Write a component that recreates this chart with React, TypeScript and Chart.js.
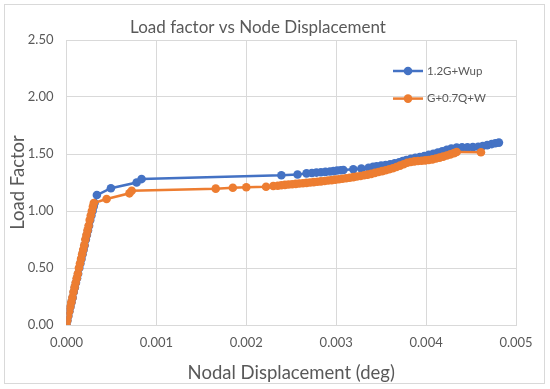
import React, { useEffect, useRef } from "react";
import { Chart, registerables } from "chart.js";

Chart.register(...registerables);

const seriesNames = ["1.2G+Wup", "G+0.7Q+W"];
const xTicks = [0, 0.001, 0.002, 0.003, 0.004, 0.005];
const yTicks = [0, 0.5, 1.0, 1.5, 2.0, 2.5];

const blueX = [
  0, 0.00001, 0.00002, 0.000032, 0.000044, 0.000056, 0.000068, 0.000081, 0.000093, 0.000105,
  0.000117, 0.000129, 0.000142, 0.000154, 0.000166, 0.000178, 0.00019, 0.000202, 0.000215,
  0.000227, 0.000239, 0.000251, 0.000264, 0.000277, 0.00029, 0.000302, 0.000312, 0.000338,
  0.000494, 0.00078, 0.000835,
  0.00239, 0.00257, 0.00267, 0.00273, 0.00278, 0.00283, 0.00288, 0.00293, 0.00297, 0.00301,
  0.00305, 0.00308, 0.00319, 0.00328, 0.00336, 0.00341, 0.00345, 0.0035, 0.00355, 0.0036,
  0.00365, 0.0037, 0.00374, 0.00378, 0.00383, 0.00388, 0.00393, 0.00398, 0.00403, 0.00408,
  0.00413, 0.00418, 0.00423, 0.00428, 0.00434, 0.0044, 0.00446, 0.00452, 0.00458, 0.00463,
  0.00468, 0.00473, 0.00477, 0.00481,
];
const blueY = [
  0, 0.04, 0.08, 0.12, 0.16, 0.2, 0.24, 0.29, 0.33, 0.37,
  0.41, 0.45, 0.5, 0.54, 0.58, 0.62, 0.66, 0.7, 0.75,
  0.79, 0.83, 0.87, 0.92, 0.96, 1.0, 1.04, 1.07, 1.14,
  1.2, 1.25, 1.28,
  1.313, 1.32, 1.33, 1.333, 1.337, 1.34, 1.343, 1.347, 1.35, 1.355,
  1.358, 1.36, 1.366, 1.372, 1.38, 1.388, 1.393, 1.398, 1.403, 1.41,
  1.418, 1.428, 1.438, 1.448, 1.458, 1.466, 1.474, 1.483, 1.493, 1.502,
  1.513, 1.524, 1.537, 1.548, 1.556, 1.558, 1.559, 1.56, 1.563, 1.57,
  1.578, 1.587, 1.594, 1.6,
];

const orangeX = [
  0, 0.000008, 0.000018, 0.00003, 0.000042, 0.000054, 0.000066, 0.000078, 0.00009, 0.000102,
  0.000114, 0.000126, 0.000138, 0.00015, 0.000162, 0.000174, 0.000186, 0.000198, 0.00021,
  0.000222, 0.000234, 0.000246, 0.000258, 0.00027, 0.000282, 0.000294, 0.000304,
  0.000446, 0.0007, 0.000725, 0.00166, 0.00185, 0.002,
  0.00222, 0.0023, 0.00235, 0.00239, 0.00243, 0.00247, 0.00251, 0.00255, 0.00259, 0.00263,
  0.00267, 0.00271, 0.00275, 0.00279, 0.00283, 0.00287, 0.00291, 0.00295, 0.00299, 0.00303,
  0.00307, 0.00311, 0.00315, 0.00319, 0.00323, 0.00327, 0.00331, 0.00335, 0.00339, 0.00343,
  0.00347, 0.00351, 0.00355, 0.00359, 0.00363, 0.00367, 0.00371, 0.00375, 0.00379, 0.00383,
  0.00387, 0.00391, 0.00395, 0.00399, 0.00403, 0.00407, 0.00411, 0.00415, 0.00419, 0.00423,
  0.00427, 0.00431, 0.00434, 0.00461,
];
const orangeY = [
  0, 0.04, 0.08, 0.12, 0.16, 0.2, 0.24, 0.29, 0.33, 0.37,
  0.41, 0.45, 0.5, 0.54, 0.58, 0.62, 0.66, 0.7, 0.75,
  0.79, 0.83, 0.87, 0.92, 0.96, 1.0, 1.04, 1.07,
  1.105, 1.155, 1.178, 1.196, 1.204, 1.208,
  1.213, 1.219, 1.222, 1.226, 1.229, 1.232, 1.235, 1.238, 1.241, 1.244,
  1.247, 1.25, 1.253, 1.256, 1.26, 1.263, 1.267, 1.271, 1.275, 1.279,
  1.283, 1.287, 1.292, 1.297, 1.302, 1.307, 1.313, 1.319, 1.326, 1.334,
  1.342, 1.35, 1.358, 1.366, 1.375, 1.386, 1.398, 1.41, 1.423, 1.43,
  1.435, 1.438, 1.441, 1.444, 1.448, 1.453, 1.46, 1.468, 1.477, 1.487,
  1.497, 1.508, 1.518, 1.515,
];

const BLUE = "#4472C4";
const ORANGE = "#ED7D31";
const TEXT = "#595959";
const GRID = "#d9d9d9";
const FONT = "Lato, 'Open Sans', sans-serif";

const toPoints = (xs: number[], ys: number[]) => xs.map((x, i) => ({ x, y: ys[i] }));

export default function App() {
  const ref = useRef<HTMLCanvasElement | null>(null);

  useEffect(() => {
    document.body.style.margin = "0";
    const canvas = ref.current;
    if (!canvas) return;

    const frame = {
      id: "frame",
      beforeDraw(chart: any) {
        const ctx = chart.ctx;
        ctx.save();
        ctx.fillStyle = "#ffffff";
        ctx.fillRect(0, 0, chart.width, chart.height);
        ctx.strokeStyle = GRID;
        ctx.lineWidth = 1;
        ctx.strokeRect(4.5, 4.5, chart.width - 10, chart.height - 10);
        ctx.restore();
      },
    };

    const legendPlugin = {
      id: "insideLegend",
      afterDraw(chart: any) {
        const ctx = chart.ctx;
        const area = chart.chartArea;
        const x0 = area.right - 123;
        const y0 = area.top + 31;
        const colors = [BLUE, ORANGE];
        ctx.save();
        seriesNames.forEach((name, i) => {
          const y = y0 + i * 27.6;
          ctx.strokeStyle = colors[i];
          ctx.lineWidth = 2.5;
          ctx.beginPath();
          ctx.moveTo(x0, y);
          ctx.lineTo(x0 + 30, y);
          ctx.stroke();
          ctx.fillStyle = colors[i];
          ctx.beginPath();
          ctx.arc(x0 + 15, y, 4.3, 0, Math.PI * 2);
          ctx.fill();
          ctx.fillStyle = TEXT;
          ctx.font = `11.5px ${FONT}`;
          ctx.textBaseline = "middle";
          ctx.textAlign = "left";
          ctx.fillText(name, x0 + 34, y);
        });
        ctx.restore();
      },
    };

    const chart = new Chart(canvas, {
      type: "scatter",
      data: {
        datasets: [
          {
            label: seriesNames[0],
            data: toPoints(blueX, blueY),
            showLine: true,
            borderColor: BLUE,
            backgroundColor: BLUE,
            borderWidth: 2.5,
            pointRadius: 4.3,
            pointBorderWidth: 0,
            order: 1,
          },
          {
            label: seriesNames[1],
            data: toPoints(orangeX, orangeY),
            showLine: true,
            borderColor: ORANGE,
            backgroundColor: ORANGE,
            borderWidth: 2.5,
            pointRadius: 4.3,
            pointBorderWidth: 0,
            order: 0,
          },
        ],
      },
      options: {
        responsive: false,
        animation: false,
        layout: { padding: { left: 0, right: 34, top: 0, bottom: 0 } },
        plugins: {
          legend: { display: false },
          tooltip: { enabled: false },
          title: {
            display: true,
            text: "Load factor vs Node Displacement",
            color: TEXT,
            font: { family: FONT, size: 17, weight: "normal", lineHeight: 1.2 },
            padding: { top: 17, bottom: 2.6 },
          },
        },
        scales: {
          x: {
            type: "linear",
            min: 0,
            max: 0.005,
            afterBuildTicks(scale: any) {
              scale.ticks = xTicks.map((v) => ({ value: v }));
            },
            afterFit(scale: any) {
              scale.height = 64;
            },
            ticks: {
              color: TEXT,
              font: { family: FONT, size: 13 },
              padding: 10,
              maxRotation: 0,
              callback: (v: any) => Number(v).toFixed(3),
            },
            grid: { color: GRID, lineWidth: 1, drawTicks: false },
            border: { color: GRID },
            title: {
              display: true,
              text: "Nodal Displacement (deg)",
              color: TEXT,
              font: { family: FONT, size: 18.5, lineHeight: 1.2 },
              padding: { top: 0, bottom: 5 },
            },
          },
          y: {
            type: "linear",
            min: 0,
            max: 2.5,
            afterBuildTicks(scale: any) {
              scale.ticks = yTicks.map((v) => ({ value: v }));
            },
            afterFit(scale: any) {
              scale.width = 66.5;
            },
            ticks: {
              color: TEXT,
              font: { family: FONT, size: 13 },
              padding: 13,
              callback: (v: any) => Number(v).toFixed(2),
            },
            grid: { color: GRID, lineWidth: 1, drawTicks: false },
            border: { color: GRID },
            title: {
              display: true,
              text: "Load Factor",
              color: TEXT,
              font: { family: FONT, size: 18.5, lineHeight: 1.2 },
              padding: { top: 7, bottom: 0 },
            },
          },
        },
      },
      plugins: [frame, legendPlugin],
    } as any);

    return () => chart.destroy();
  }, []);

  return (
    <div style={{ width: 550, height: 389 }}>
      <canvas ref={ref} width={550} height={389} />
    </div>
  );
}
